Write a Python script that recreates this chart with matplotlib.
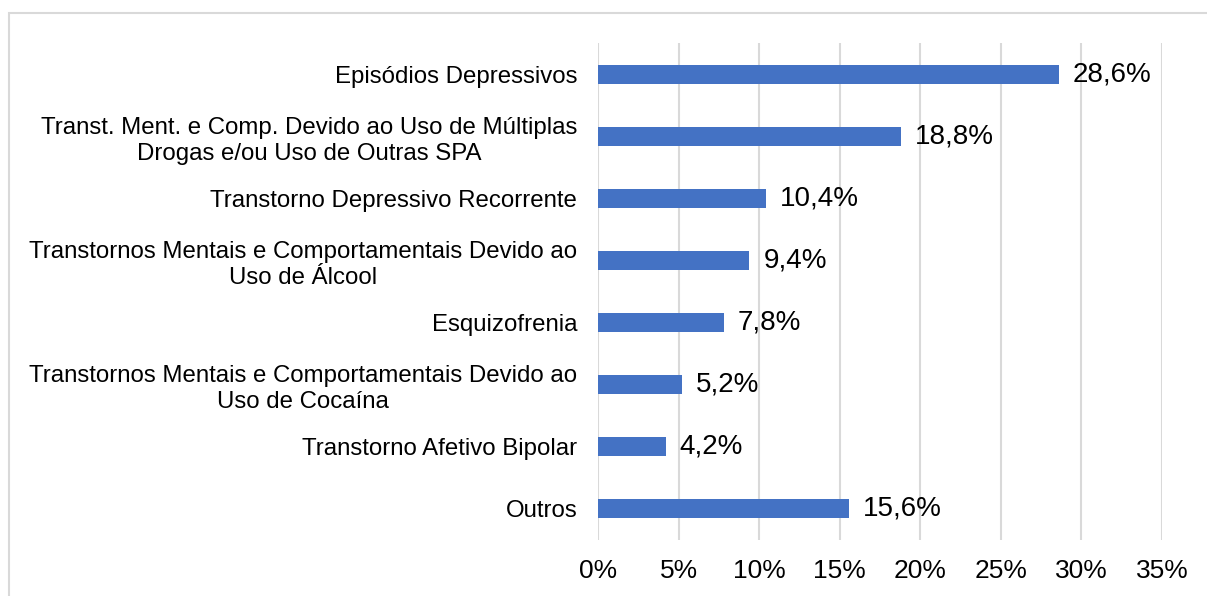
import matplotlib
matplotlib.use("Agg")
import matplotlib.pyplot as plt
from matplotlib.patches import Rectangle

plt.rcParams['font.family'] = ['Liberation Sans', 'DejaVu Sans']

# categories, top to bottom
categorias = [
    "Episódios Depressivos",
    "Transt. Ment. e Comp. Devido ao Uso de Múltiplas\nDrogas e/ou Uso de Outras SPA",
    "Transtorno Depressivo Recorrente",
    "Transtornos Mentais e Comportamentais Devido ao\nUso de Álcool",
    "Esquizofrenia",
    "Transtornos Mentais e Comportamentais Devido ao\nUso de Cocaína",
    "Transtorno Afetivo Bipolar",
    "Outros",
]
percentuais = [28.6, 18.8, 10.4, 9.4, 7.8, 5.2, 4.2, 15.6]
rotulos = ["28,6%", "18,8%", "10,4%", "9,4%", "7,8%", "5,2%", "4,2%", "15,6%"]
xticks = [0, 5, 10, 15, 20, 25, 30, 35]
xtick_labels = ["0%", "5%", "10%", "15%", "20%", "25%", "30%", "35%"]

fig = plt.figure(figsize=(12.07, 5.96), dpi=100)
ax = fig.add_axes([598/1207, 1 - 540/596, (1162 - 598)/1207, (540 - 43)/596])

y = list(range(len(categorias)))
ax.barh(y, percentuais, height=0.305, color="#4472C4", zorder=3)

for yi, v, lab in zip(y, percentuais, rotulos):
    ax.annotate(lab, (v, yi), xytext=(10, 0), textcoords="offset points",
                va="center", ha="left", fontsize=20, color="black")

ax.set_ylim(len(categorias) - 0.5, -0.5)
ax.set_xlim(0, 35)
ax.set_xticks(xticks)
ax.set_xticklabels(xtick_labels, fontsize=19, color="black")
ax.set_yticks(y)
ax.set_yticklabels(categorias, fontsize=17.3, color="black",
                   multialignment="center", linespacing=1.25)
ax.tick_params(axis="both", length=0)
ax.tick_params(axis="x", pad=14)
ax.tick_params(axis="y", pad=15)

ax.grid(axis="x", color="#d9d9d9", linewidth=1.5, zorder=0)
for s in ax.spines.values():
    s.set_visible(False)

# outer chart frame (cut off at right and bottom)
fig.patches.append(Rectangle((9/1207, -0.1), 1.2, 1.1 - 13/596, transform=fig.transFigure,
                             fill=False, edgecolor="#d9d9d9", linewidth=1.5))

fig.savefig("out.png", dpi=100)
